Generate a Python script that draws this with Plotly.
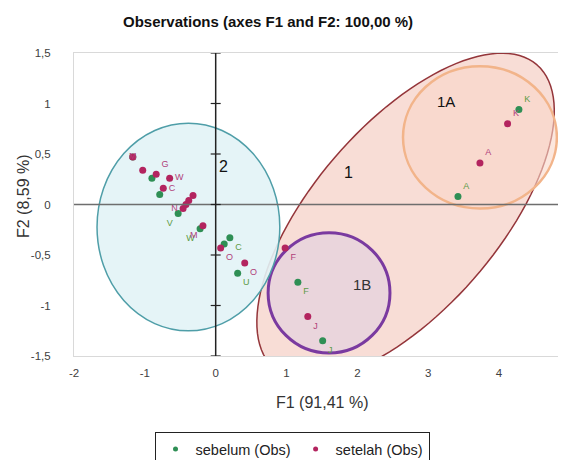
import numpy as np
import plotly.graph_objects as go

# ---- data ----
sebelum_x = [4.28, 3.42, 1.16, 1.51, 0.20, 0.12, 0.31, -0.22, -0.53, -0.79, -0.90, -1.17]
sebelum_y = [0.94, 0.08, -0.77, -1.35, -0.33, -0.39, -0.68, -0.24, -0.09, 0.10, 0.26, 0.47]
sebelum_lbl = ["K", "A", "F", "J", "C", "", "U", "W", "V", "", "", ""]

setelah_x = [4.12, 3.73, 0.98, 1.30, 0.07, 0.41, -0.18, -0.32, -0.38, -0.42, -0.46, -0.74, -0.65, -0.84, -1.03, -1.17]
setelah_y = [0.80, 0.41, -0.43, -1.11, -0.43, -0.58, -0.21, 0.09, 0.04, 0.00, -0.04, 0.16, 0.26, 0.30, 0.34, 0.47]
setelah_lbl = ["K", "A", "F", "J", "O", "O", "M", "", "", "", "N", "C", "W", "G", "", "M"]

x_ticks = [-2, -1, 0, 1, 2, 3, 4]
x_ticktext = ["-2", "-1", "0", "1", "2", "3", "4"]
y_ticks = [-1.5, -1, -0.5, 0, 0.5, 1, 1.5]
y_ticktext = ["-1,5", "-1", "-0,5", "0", "0,5", "1", "1,5"]

# ---- styling ----
sebelum_pos = ["top right", "top right", "bottom right", "bottom right", "bottom right", "top right",
               "bottom right", "bottom left", "bottom left", "top right", "top right", "top right"]
setelah_pos = ["top right", "top right", "bottom right", "bottom right", "bottom right", "bottom right",
               "bottom left", "top right", "top right", "top right", "middle left", "middle right",
               "middle right", "top right", "top right", "middle center"]

GREEN = "#2f8f55"
MAGENTA = "#b3245f"
FONT = "Liberation Sans, Arial"

# page has an 8px body margin: work in page pixels, convert to figure pixels
OFF = 8
W, H = 566 - OFF, 460 - OFF
L, R, T, B = 74 - OFF, 560 - OFF, 53 - OFF, 356 - OFF

fig = go.Figure()


def ellipse_path(cx, cy, ax, ay, bx, by, n=120):
    t = np.linspace(0, 2 * np.pi, n)
    xs = cx + ax * np.cos(t) + bx * np.sin(t)
    ys = cy + ay * np.cos(t) + by * np.sin(t)
    return "M " + " L ".join(f"{x:.4f},{y:.4f}" for x, y in zip(xs, ys)) + " Z"


shapes = []
shapes.append(dict(type="path", xref="x", yref="y", layer="below",
                   path=ellipse_path(2.68, -0.12, 1.856, 1.502, 0.981, -0.601),
                   fillcolor="rgba(245,210,200,0.75)", line=dict(color="#94353a", width=1.5)))
shapes.append(dict(type="circle", xref="x", yref="y", layer="below",
                   x0=3.73 - 1.086, x1=3.73 + 1.086, y0=0.665 - 0.705, y1=0.665 + 0.705,
                   fillcolor="rgba(250,215,200,0.6)", line=dict(color="#f2b48a", width=2.5)))
shapes.append(dict(type="circle", xref="x", yref="y", layer="below",
                   x0=1.60 - 0.86, x1=1.60 + 0.86, y0=-0.875 - 0.596, y1=-0.875 + 0.596,
                   fillcolor="rgba(228,210,222,0.7)", line=dict(color="#7a3aa0", width=3)))
shapes.append(dict(type="circle", xref="x", yref="y", layer="below",
                   x0=-0.385 - 1.29, x1=-0.385 + 1.29, y0=-0.223 - 1.028, y1=-0.223 + 1.028,
                   fillcolor="rgba(226,243,246,0.9)", line=dict(color="#4f9ea8", width=1.5)))
shapes.append(dict(type="line", xref="paper", yref="y", x0=0, x1=1, y0=0, y1=0,
                   line=dict(color="#6e6e6e", width=1.5)))
shapes.append(dict(type="line", xref="x", yref="y", x0=0, x1=0, y0=-1.5, y1=1.5,
                   line=dict(color="#222222", width=1.5)))
for yv in y_ticks:
    shapes.append(dict(type="line", xref="x", yref="y", xsizemode="pixel", xanchor=0,
                       x0=-5, x1=5, y0=yv, y1=yv, line=dict(color="#222222", width=1.2)))

fig.add_trace(go.Scatter(
    x=sebelum_x, y=sebelum_y, mode="markers+text", name="sebelum (Obs)", showlegend=False,
    text=sebelum_lbl, textposition=sebelum_pos,
    textfont=dict(size=9, color="#5c9a45", family=FONT),
    marker=dict(size=7, color=GREEN)))
fig.add_trace(go.Scatter(
    x=setelah_x, y=setelah_y, mode="markers+text", name="setelah (Obs)", showlegend=False,
    text=setelah_lbl, textposition=setelah_pos,
    textfont=dict(size=9, color="#b0417a", family=FONT),
    marker=dict(size=7, color=MAGENTA)))
# legend entries (small markers as in the reference)
fig.add_trace(go.Scatter(x=[None], y=[None], mode="markers", name="sebelum (Obs)",
                         marker=dict(size=5, color=GREEN)))
fig.add_trace(go.Scatter(x=[None], y=[None], mode="markers", name="setelah (Obs)",
                         marker=dict(size=5, color=MAGENTA)))

annots = [
    dict(text="1A", x=3.25, y=1.02, font=dict(size=15, color="#111")),
    dict(text="1", x=1.88, y=0.32, font=dict(size=16, color="#111")),
    dict(text="1B", x=2.07, y=-0.79, font=dict(size=15, color="#333")),
    dict(text="2", x=0.11, y=0.38, font=dict(size=16, color="#111")),
]
annotations = [dict(a, xref="x", yref="y", showarrow=False) for a in annots]


def px2paper_x(px):
    return (px - OFF - L) / (R - L)


def px2paper_y(py):
    return (B - (py - OFF)) / (B - T)


annotations.append(dict(text="<b>Observations (axes F1 and F2: 100,00 %)</b>", xref="paper", yref="paper",
                        x=px2paper_x(268), y=px2paper_y(21), xanchor="center", yanchor="middle",
                        showarrow=False, font=dict(size=15, color="#111", family=FONT)))
annotations.append(dict(text="F1 (91,41 %)", xref="paper", yref="paper",
                        x=px2paper_x(322), y=px2paper_y(402), xanchor="center", yanchor="middle",
                        showarrow=False, font=dict(size=16, color="#333", family=FONT)))
annotations.append(dict(text="F2 (8,59 %)", xref="paper", yref="paper", textangle=-90,
                        x=px2paper_x(23), y=px2paper_y(196), xanchor="center", yanchor="middle",
                        showarrow=False, font=dict(size=16, color="#333", family=FONT)))

fig.update_layout(
    width=W, height=H,
    margin=dict(l=L, r=W - R, t=T, b=H - B, autoexpand=False),
    paper_bgcolor="white", plot_bgcolor="white",
    font=dict(family=FONT, color="#404040"),
    shapes=shapes, annotations=annotations,
    showlegend=True,
    legend=dict(orientation="h", xref="container", yref="container", x=(292 - OFF) / W, xanchor="center",
                y=1 - (432 - OFF) / H, yanchor="top",
                bordercolor="#222", borderwidth=1, font=dict(size=14.5, color="#222"),
                itemwidth=30, tracegroupgap=0),
)
fig.update_xaxes(range=[-2, 4.86], tickvals=x_ticks, ticktext=x_ticktext, showgrid=False, zeroline=False,
                 showline=True, mirror=True, linecolor="#d9d9d9", linewidth=1, ticks="", automargin=False,
                 tickfont=dict(size=11.5, color="#404040"), ticklabelstandoff=6)
fig.update_yaxes(range=[-1.5, 1.5], tickvals=y_ticks, ticktext=y_ticktext, showgrid=False, zeroline=False,
                 showline=True, mirror=True, linecolor="#d9d9d9", linewidth=1, ticks="", automargin=False,
                 tickfont=dict(size=11.5, color="#404040"), ticklabelstandoff=20)

fig.write_html("out.html")
